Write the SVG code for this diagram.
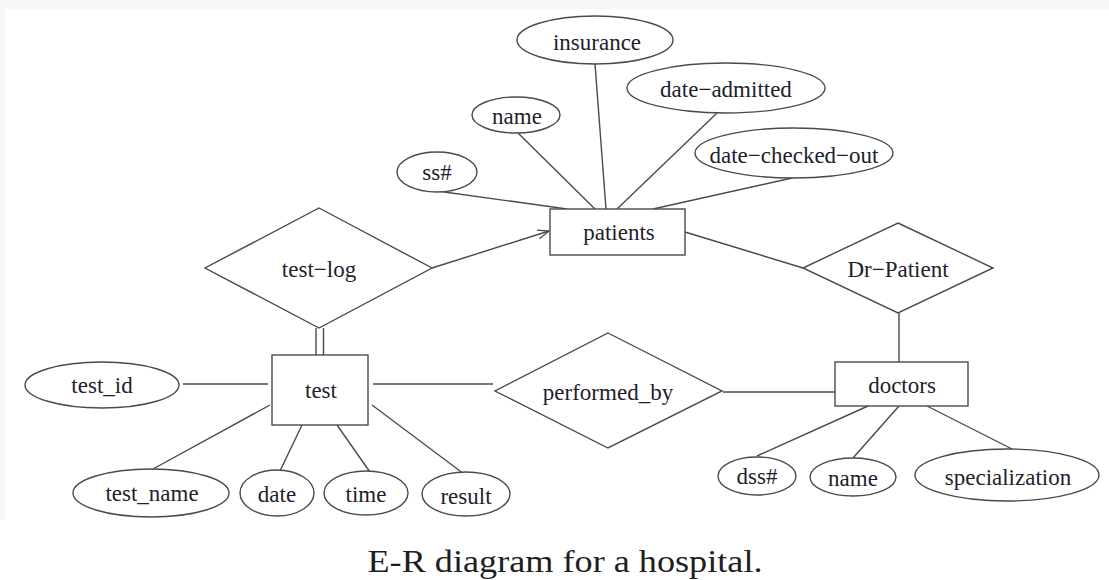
<svg xmlns="http://www.w3.org/2000/svg" width="1109" height="580" viewBox="0 0 1109 580">
  <style>
    .shape { fill: #ffffff; stroke: #4a4a4a; stroke-width: 1.4; }
    .edge { fill: none; stroke: #4a4a4a; stroke-width: 1.4; }
    .label { font-family: "Liberation Serif", "Times New Roman", serif; font-size: 23px; fill: #1e1e2e; text-anchor: middle; dominant-baseline: central; }
    .caption { font-family: "Liberation Serif", "Times New Roman", serif; font-size: 32px; fill: #1e1e1e; text-anchor: middle; }
  </style>
  <defs>
    <marker id="open-arrow" viewBox="0 0 12 10" refX="11.5" refY="5" markerWidth="12" markerHeight="10" markerUnits="userSpaceOnUse" orient="auto">
      <path d="M0,0.5 L11.5,5 L0,9.5" fill="none" stroke="#4a4a4a" stroke-width="1.3"/>
    </marker>
  </defs>

  <rect x="0" y="0" width="1109" height="580" fill="#ffffff"/>
  <rect x="0" y="0" width="1109" height="9" fill="#f6f8f6"/>
  <rect x="0" y="0" width="5" height="520" fill="#f6f8f6"/>

  <!-- connectors -->
  <g id="connectors">
    <line class="edge" x1="595" y1="64" x2="606" y2="209"/>
    <line class="edge" x1="518" y1="133" x2="595" y2="209"/>
    <line class="edge" x1="437" y1="191" x2="567" y2="209"/>
    <line class="edge" x1="717" y1="113" x2="617" y2="209"/>
    <line class="edge" x1="792" y1="178" x2="653" y2="209"/>
    <line class="edge" x1="432" y1="268" x2="549" y2="231" marker-end="url(#open-arrow)"/>
    <line class="edge" x1="685" y1="232" x2="803" y2="268"/>
    <line class="edge" x1="316" y1="328" x2="316" y2="355"/>
    <line class="edge" x1="323.5" y1="328" x2="323.5" y2="355"/>
    <line class="edge" x1="183" y1="384" x2="268" y2="384"/>
    <line class="edge" x1="153" y1="469" x2="270" y2="405"/>
    <line class="edge" x1="280" y1="471" x2="302" y2="425"/>
    <line class="edge" x1="372" y1="475" x2="337" y2="425"/>
    <line class="edge" x1="468" y1="477" x2="372" y2="405"/>
    <line class="edge" x1="373" y1="384" x2="493" y2="384"/>
    <line class="edge" x1="723" y1="392" x2="837" y2="392"/>
    <line class="edge" x1="899" y1="313" x2="899" y2="362"/>
    <line class="edge" x1="757" y1="456" x2="868" y2="406"/>
    <line class="edge" x1="853" y1="458" x2="899" y2="406"/>
    <line class="edge" x1="1012" y1="449" x2="927" y2="406"/>
  </g>

  <!-- entities -->
  <g id="patients">
    <rect class="shape" x="550" y="209" width="135" height="46"/>
    <text class="label" x="619" y="232">patients</text>
  </g>
  <g id="test">
    <rect class="shape" x="272" y="355" width="96" height="70"/>
    <text class="label" x="321" y="390">test</text>
  </g>
  <g id="doctors">
    <rect class="shape" x="835" y="362" width="133" height="44"/>
    <text class="label" x="902" y="385">doctors</text>
  </g>

  <!-- relationships -->
  <g id="test-log">
    <polygon class="shape" points="319,208 432,268 319,328 205,268"/>
    <text class="label" x="319" y="269">test−log</text>
  </g>
  <g id="dr-patient">
    <polygon class="shape" points="898,223 993,268 898,313 803,268"/>
    <text class="label" x="898" y="269">Dr−Patient</text>
  </g>
  <g id="performed_by">
    <polygon class="shape" points="608,333 722,391 608,448 495,391"/>
    <text class="label" x="608" y="392">performed_by</text>
  </g>

  <!-- patient attributes -->
  <g id="insurance">
    <ellipse class="shape" cx="595" cy="40" rx="78" ry="24"/>
    <text class="label" x="597" y="42">insurance</text>
  </g>
  <g id="patient-name">
    <ellipse class="shape" cx="516" cy="115" rx="44" ry="18"/>
    <text class="label" x="517" y="116">name</text>
  </g>
  <g id="ss">
    <ellipse class="shape" cx="437" cy="172" rx="40" ry="20"/>
    <text class="label" x="437" y="172">ss#</text>
  </g>
  <g id="date-admitted">
    <ellipse class="shape" cx="726" cy="88" rx="99" ry="25"/>
    <text class="label" x="726" y="89">date−admitted</text>
  </g>
  <g id="date-checked-out">
    <ellipse class="shape" cx="794" cy="153" rx="99" ry="25"/>
    <text class="label" x="794" y="155">date−checked−out</text>
  </g>

  <!-- test attributes -->
  <g id="test_id">
    <ellipse class="shape" cx="102" cy="385" rx="77" ry="23"/>
    <text class="label" x="102" y="385">test_id</text>
  </g>
  <g id="test_name">
    <ellipse class="shape" cx="151" cy="493" rx="78" ry="24"/>
    <text class="label" x="152" y="493">test_name</text>
  </g>
  <g id="date">
    <ellipse class="shape" cx="277" cy="493" rx="37" ry="23"/>
    <text class="label" x="277" y="494">date</text>
  </g>
  <g id="time">
    <ellipse class="shape" cx="366" cy="493" rx="42" ry="22"/>
    <text class="label" x="366" y="494">time</text>
  </g>
  <g id="result">
    <ellipse class="shape" cx="466" cy="494" rx="44" ry="22"/>
    <text class="label" x="466" y="496">result</text>
  </g>

  <!-- doctor attributes -->
  <g id="dss">
    <ellipse class="shape" cx="757" cy="476" rx="39" ry="19"/>
    <text class="label" x="757" y="476">dss#</text>
  </g>
  <g id="doctor-name">
    <ellipse class="shape" cx="853" cy="477" rx="43" ry="19"/>
    <text class="label" x="853" y="478">name</text>
  </g>
  <g id="specialization">
    <ellipse class="shape" cx="1007" cy="475" rx="92" ry="26"/>
    <text class="label" x="1008" y="477">specialization</text>
  </g>

  <text class="caption" x="565" y="572" textLength="395" lengthAdjust="spacingAndGlyphs">E-R diagram for a hospital.</text>
</svg>
